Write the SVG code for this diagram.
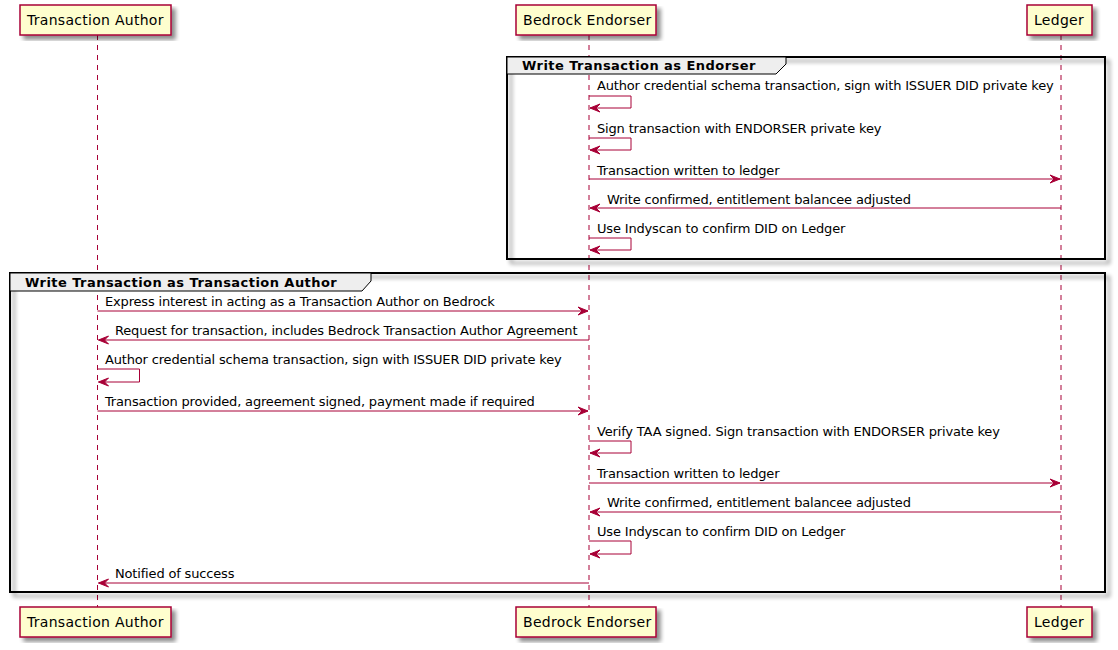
<svg xmlns="http://www.w3.org/2000/svg" width="1118" height="650" viewBox="0 0 1118 650">
<style>
.bg{fill:#FFFFFF}
.pbox{fill:#FEFECE;stroke:#A80036;stroke-width:1.5}
.life{stroke:#A80036;stroke-width:1;stroke-dasharray:5,5;fill:none}
.ptxt{font-family:"DejaVu Sans","Liberation Sans",sans-serif;font-size:14px;letter-spacing:0.28px;fill:#000000}
.frame{fill:none;stroke:#000000;stroke-width:2}
.ghead{fill:#EEEEEE;stroke:#000000;stroke-width:1}
.gtxt{font-family:"DejaVu Sans","Liberation Sans",sans-serif;font-size:13px;font-weight:bold;letter-spacing:0.45px;fill:#000000}
.msg{stroke:#A80036;stroke-width:1;fill:none;marker-end:url(#ah)}
.mtxt{font-family:"DejaVu Sans","Liberation Sans",sans-serif;font-size:13px;letter-spacing:-0.17px;fill:#000000}
</style>
<defs>
<filter id="sh" x="-10%" y="-10%" width="130%" height="130%">
<feGaussianBlur in="SourceAlpha" stdDeviation="2" result="b"/>
<feOffset in="b" dx="4" dy="4" result="o"/>
<feComponentTransfer in="o" result="o2"><feFuncA type="linear" slope="0.45"/></feComponentTransfer>
<feMerge><feMergeNode in="o2"/><feMergeNode in="SourceGraphic"/></feMerge>
</filter>
<marker id="ah" markerUnits="userSpaceOnUse" markerWidth="11" markerHeight="9" refX="10" refY="4" orient="auto" overflow="visible">
<path d="M0,0 L10,4 L0,8 L4,4 Z" fill="#A80036" stroke="#A80036" stroke-width="1"/>
</marker>
</defs>
<rect class="bg" x="0" y="0" width="1118" height="650"/>

<g id="lifelines">
<line class="life" x1="97.5" y1="35" x2="97.5" y2="607"/>
<line class="life" x1="589" y1="35" x2="589" y2="607"/>
<line class="life" x1="1061" y1="35" x2="1061" y2="607"/>
</g>

<g id="group-endorser">
<rect class="frame" x="507" y="57" width="598" height="202" filter="url(#sh)"/>
<path class="ghead" d="M507,57 L786,57 L786,64 L776,74 L507,74 Z"/>
<text class="gtxt" x="522" y="70">Write Transaction as Endorser</text>
</g>

<g id="group-author">
<rect class="frame" x="10" y="273" width="1095" height="319" filter="url(#sh)"/>
<path class="ghead" d="M10,273 L371,273 L371,281 L362,291 L10,291 Z"/>
<text class="gtxt" x="25" y="287">Write Transaction as Transaction Author</text>
</g>

<g id="participant-author">
<rect class="pbox" x="20" y="5" width="151" height="30" filter="url(#sh)"/>
<text class="ptxt" x="27" y="25">Transaction Author</text>
<rect class="pbox" x="20" y="607" width="151" height="30" filter="url(#sh)"/>
<text class="ptxt" x="27" y="627">Transaction Author</text>
</g>

<g id="participant-endorser">
<rect class="pbox" x="516" y="5" width="140" height="30" filter="url(#sh)"/>
<text class="ptxt" x="523" y="25">Bedrock Endorser</text>
<rect class="pbox" x="516" y="607" width="140" height="30" filter="url(#sh)"/>
<text class="ptxt" x="523" y="627">Bedrock Endorser</text>
</g>

<g id="participant-ledger">
<rect class="pbox" x="1027" y="5" width="65" height="30" filter="url(#sh)"/>
<text class="ptxt" x="1034" y="25">Ledger</text>
<rect class="pbox" x="1027" y="607" width="65" height="30" filter="url(#sh)"/>
<text class="ptxt" x="1034" y="627">Ledger</text>
</g>

<g id="connectors">
<path class="msg" d="M589,96 H631 V108 H590"/>
<text class="mtxt" x="597" y="90">Author credential schema transaction, sign with ISSUER DID private key</text>
<path class="msg" d="M589,138 H631 V150 H590"/>
<text class="mtxt" x="597" y="133">Sign transaction with ENDORSER private key</text>
<path class="msg" d="M589,179 H1060"/>
<text class="mtxt" x="597" y="175">Transaction written to ledger</text>
<path class="msg" d="M1061,208 H590"/>
<text class="mtxt" x="607" y="204">Write confirmed, entitlement balancee adjusted</text>
<path class="msg" d="M589,238 H631 V250 H590"/>
<text class="mtxt" x="597" y="233">Use Indyscan to confirm DID on Ledger</text>

<path class="msg" d="M97.5,311 H588"/>
<text class="mtxt" x="105" y="306">Express interest in acting as a Transaction Author on Bedrock</text>
<path class="msg" d="M589,340 H98.5"/>
<text class="mtxt" x="115" y="335">Request for transaction, includes Bedrock Transaction Author Agreement</text>
<path class="msg" d="M97.5,369 H139.5 V382 H98.5"/>
<text class="mtxt" x="105" y="364">Author credential schema transaction, sign with ISSUER DID private key</text>
<path class="msg" d="M97.5,411 H588"/>
<text class="mtxt" x="105" y="406">Transaction provided, agreement signed, payment made if required</text>
<path class="msg" d="M589,441 H631 V453 H590"/>
<text class="mtxt" x="597" y="436">Verify TAA signed. Sign transaction with ENDORSER private key</text>
<path class="msg" d="M589,483 H1060"/>
<text class="mtxt" x="597" y="478">Transaction written to ledger</text>
<path class="msg" d="M1061,512 H590"/>
<text class="mtxt" x="607" y="507">Write confirmed, entitlement balancee adjusted</text>
<path class="msg" d="M589,541 H631 V554 H590"/>
<text class="mtxt" x="597" y="536">Use Indyscan to confirm DID on Ledger</text>
<path class="msg" d="M589,583 H98.5"/>
<text class="mtxt" x="115" y="578">Notified of success</text>
</g>
</svg>
